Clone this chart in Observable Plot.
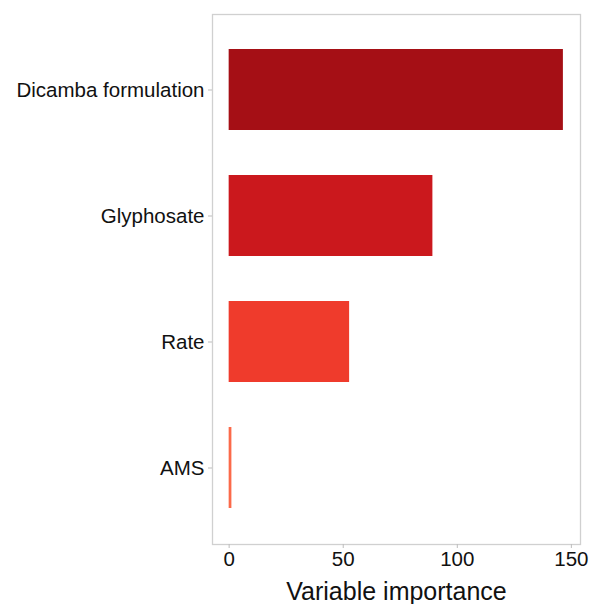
<!DOCTYPE html>
<html>
<head>
<meta charset="utf-8">
<script src="https://cdn.jsdelivr.net/npm/d3@7"></script>
<script src="https://cdn.jsdelivr.net/npm/@observablehq/plot@0.6"></script>
<style>
  html, body { margin: 0; padding: 0; background: #fff; }
  svg { display: block; }
</style>
</head>
<body>
<div id="chart"></div>
<script>
const factors = ["Dicamba formulation", "Glyphosate", "Rate", "AMS"];
const importance = [146.5, 89.3, 52.8, 1.2];
const barColors = ["#a50f15", "#cb181d", "#ef3b2c", "#fb6a4a"];
const xTicks = [0, 50, 100, 150];
const xLabel = "Variable importance";

const data = factors.map((f, i) => ({factor: f, value: importance[i], color: barColors[i]}));

const chart = Plot.plot({
  width: 590,
  height: 604,
  marginLeft: 212,
  marginRight: 10,
  marginTop: 14,
  marginBottom: 60,
  style: {fontFamily: "'Liberation Sans', Arial, sans-serif", background: "#fff", color: "#111"},
  x: {domain: [-7.3, 154]},
  y: {domain: factors, paddingInner: 0.354, paddingOuter: 0.268},
  marks: [
    Plot.barX(data, {x1: 0, x2: "value", y: "factor", fill: "color"}),
    Plot.frame({stroke: "#d0d0d0", strokeWidth: 1.3}),
    Plot.axisY({ticks: factors, tickSize: 4, tickPadding: 4, fontSize: 20.5, label: null, stroke: "#bdbdbd", fill: "#111"}),
    Plot.axisX({ticks: xTicks, tickSize: 4, tickPadding: 3, fontSize: 20.5, label: null, stroke: "#bdbdbd", fill: "#111"}),
    Plot.axisX({ticks: [], label: xLabel, labelAnchor: "center", labelArrow: "none", labelOffset: 55, fontSize: 25, fill: "#111"})
  ]
});
document.getElementById("chart").appendChild(chart);
</script>
</body>
</html>
